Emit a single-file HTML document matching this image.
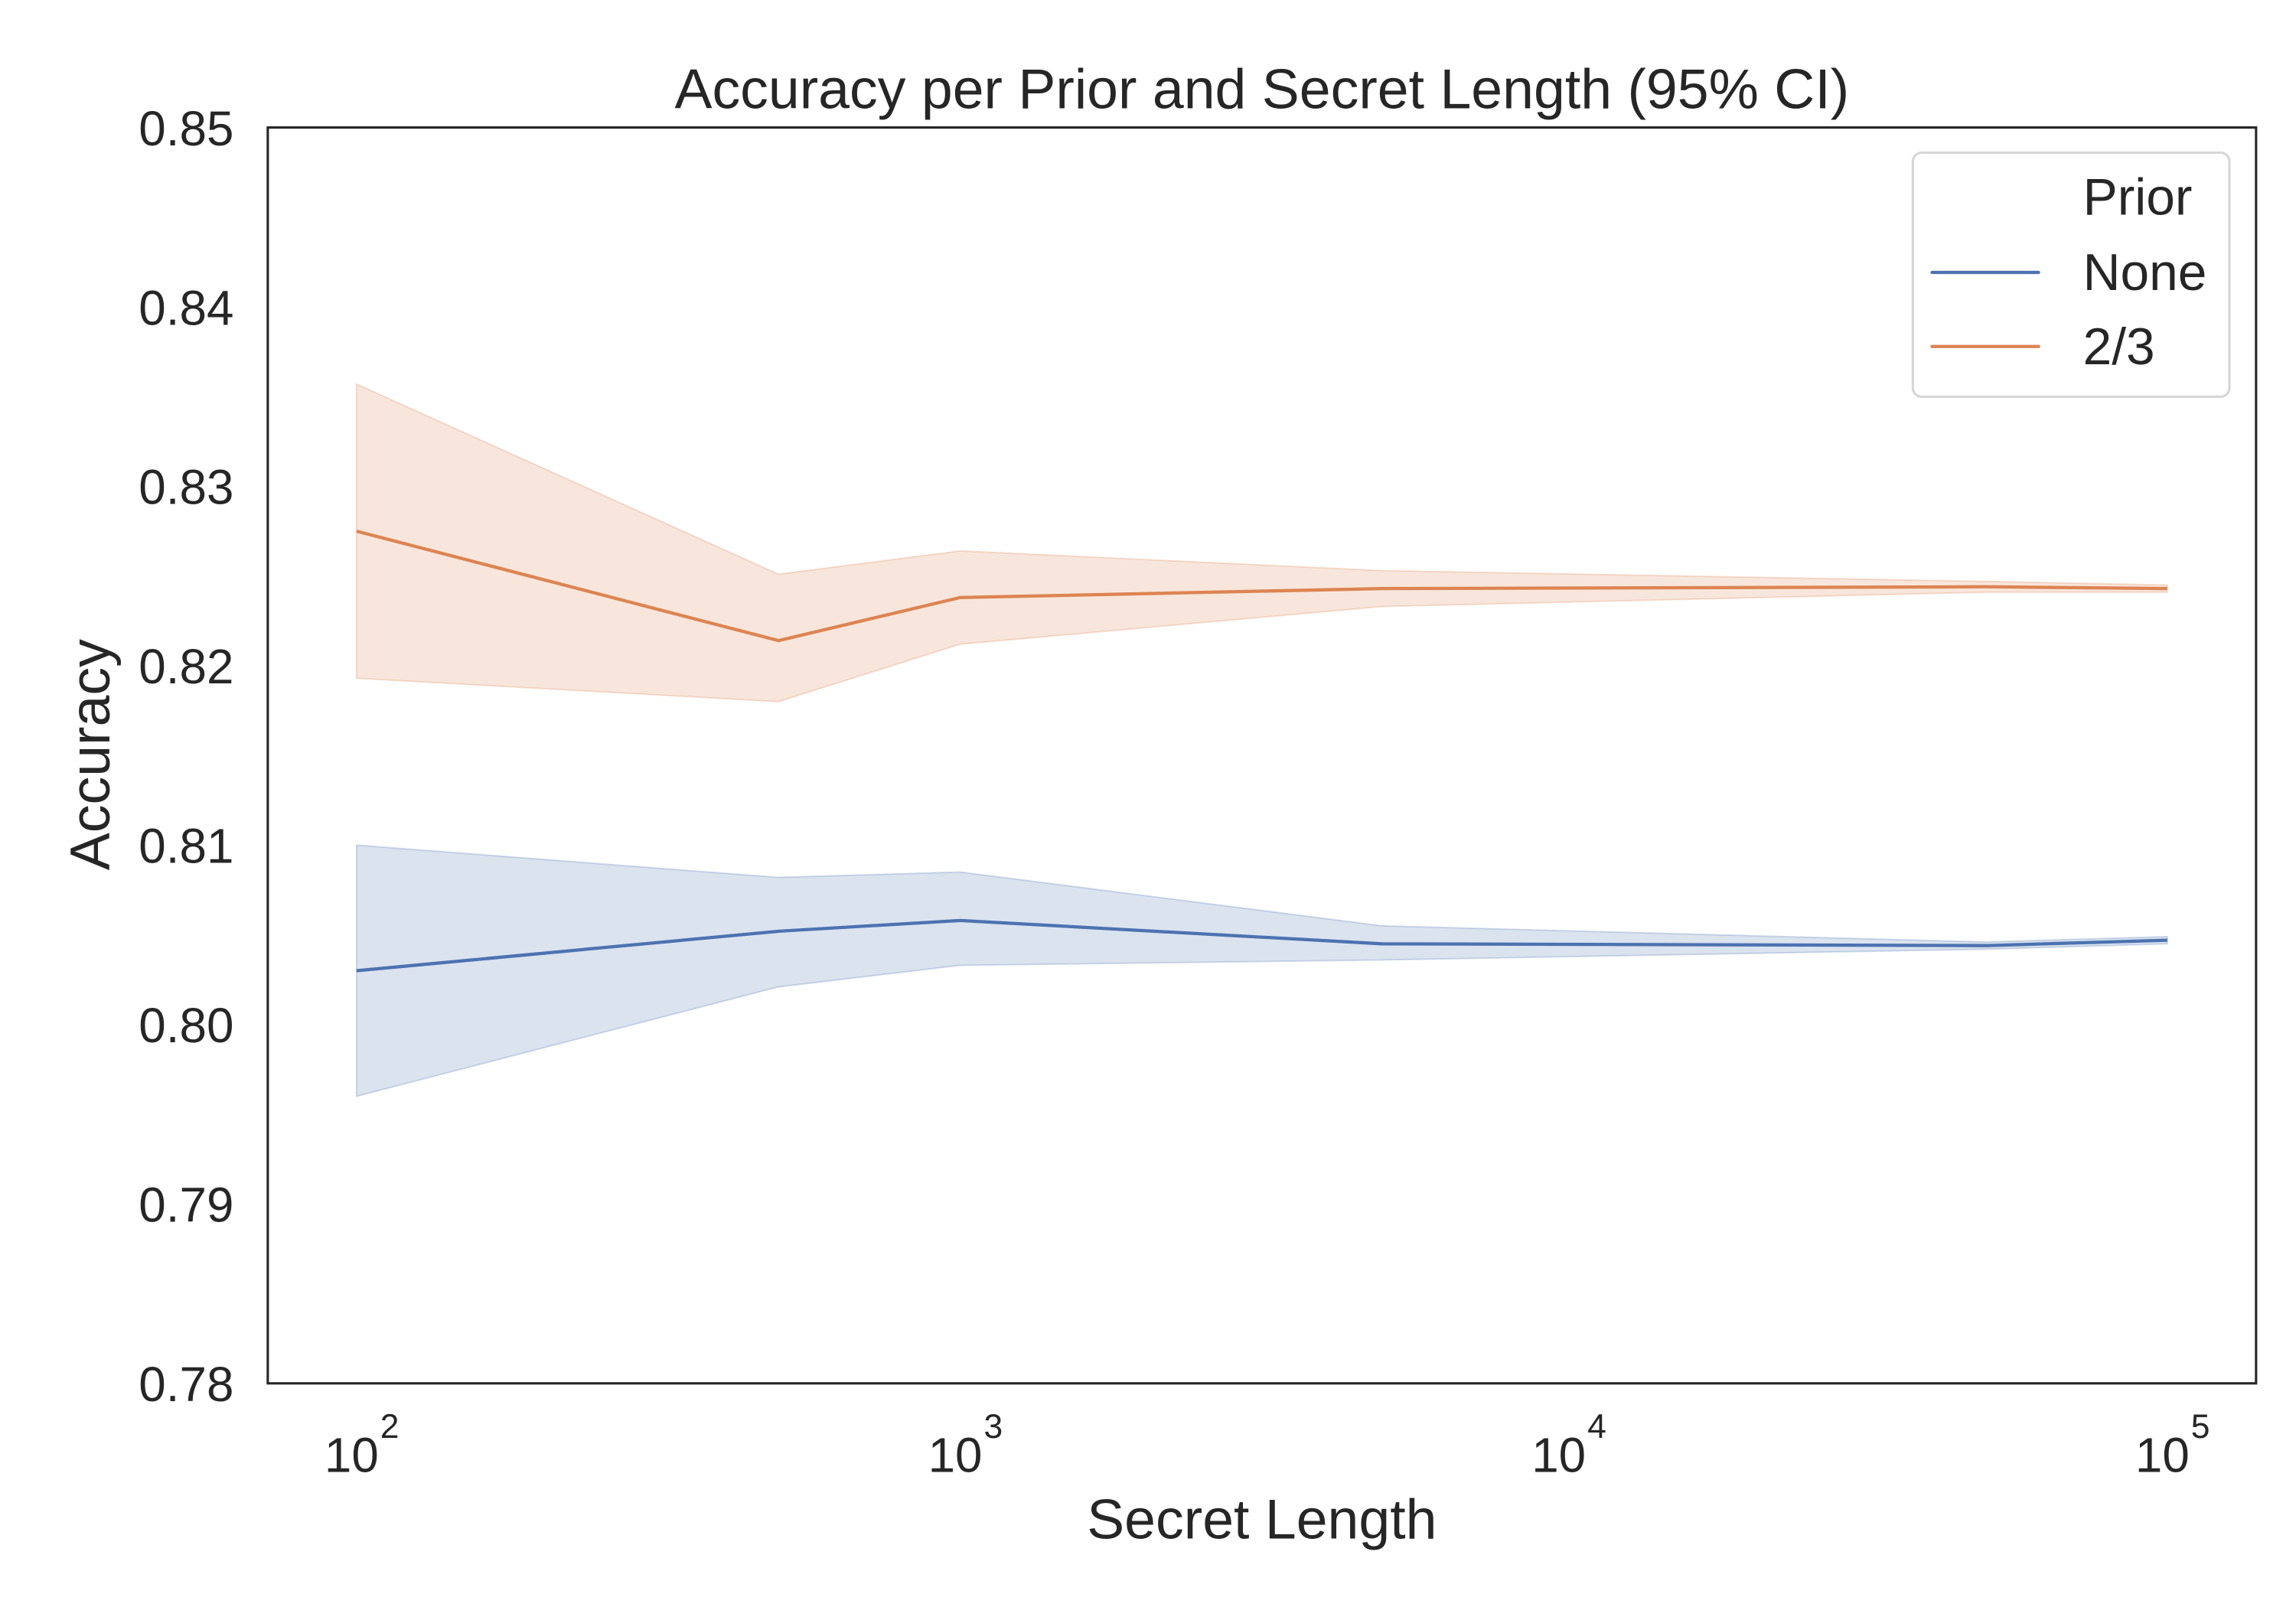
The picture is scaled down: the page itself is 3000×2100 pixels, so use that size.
<!DOCTYPE html>
<html><head><meta charset="utf-8"><style>html,body{margin:0;padding:0;background:#fff}svg{display:block}text{font-family:"Liberation Sans",Arial,sans-serif;fill:#262626}</style></head>
<body>
<svg id="chart" width="3000" height="2100" viewBox="0 0 1552 1086" xmlns="http://www.w3.org/2000/svg">
<rect width="1552" height="1086" fill="#fff"/>
<text x="853" y="73" font-size="38" text-anchor="middle">Accuracy per Prior and Secret Length (95% CI)</text>
<g id="bands"></g><g id="lines"></g>
<rect x="181" y="86" width="1344" height="849" fill="none" stroke="#262626" stroke-width="1.6"/>
<g id="yticks"></g><g id="xticks"></g>
<text transform="translate(74,510) rotate(-90)" font-size="38" text-anchor="middle">Accuracy</text>
<text x="853" y="1040" font-size="38" text-anchor="middle">Secret Length</text>
<g>
<rect x="1293" y="103" width="214" height="165" rx="6" fill="#fff" stroke="#d6d6d6" stroke-width="1.6"/>
<text x="1408" y="145" font-size="35">Prior</text>
<line x1="1306" y1="184" x2="1378" y2="184" stroke="#4c72b0" stroke-width="2.2" stroke-linecap="round"/>
<text x="1408" y="196" font-size="35">None</text>
<line x1="1306" y1="234" x2="1378" y2="234" stroke="#dd8452" stroke-width="2.2" stroke-linecap="round"/>
<text x="1408" y="246" font-size="35">2/3</text>
</g>
</svg>
<script>
const lengths=[100,500,1000,5000,50000,100000];
const orangeMean=[0.8275,0.8214,0.8238,0.8243,0.8244,0.8243];
const orangeUpper=[0.8357,0.8251,0.8264,0.8253,0.8247,0.8245];
const orangeLower=[0.8193,0.8180,0.8212,0.8233,0.8241,0.8241];
const blueMean=[0.8030,0.8052,0.8058,0.8045,0.8044,0.8047];
const blueUpper=[0.8100,0.8082,0.8085,0.8055,0.8046,0.8049];
const blueLower=[0.7960,0.8021,0.8033,0.8036,0.8042,0.8045];
const yTicks=["0.78","0.79","0.80","0.81","0.82","0.83","0.84","0.85"];
const xTickExp=[2,3,4,5];
const NS="http://www.w3.org/2000/svg";
function xs(v){return 241+(Math.log10(v)-2)*408;}
function ys(v){return 935-(v-0.78)/0.07*849;}
function mk(t,a,p){const e=document.createElementNS(NS,t);for(const k in a)e.setAttribute(k,a[k]);p.appendChild(e);return e;}
const bands=document.getElementById('bands'),lines=document.getElementById('lines');
function series(mean,up,lo,col,name){
  let d=lengths.map((x,i)=>(i?'L':'M')+xs(x)+','+ys(up[i])).join('');
  d+=lengths.slice().reverse().map((x,j)=>{const i=lengths.length-1-j;return 'L'+xs(x)+','+ys(lo[i]);}).join('')+'Z';
  const b=mk('path',{d:d,fill:col,'fill-opacity':0.2,stroke:col,'stroke-opacity':0.25,'stroke-width':1},bands);
  
  
  const l=mk('polyline',{points:lengths.map((x,i)=>xs(x)+','+ys(mean[i])).join(' '),fill:'none',stroke:col,'stroke-width':2.2},lines);
  
  
}
series(blueMean,blueUpper,blueLower,'#4c72b0','none-prior');
series(orangeMean,orangeUpper,orangeLower,'#dd8452','two-thirds-prior');
const yt=document.getElementById('yticks');
yTicks.forEach(s=>{const t=mk('text',{x:158,y:ys(parseFloat(s))+12,'font-size':33,'text-anchor':'end'},yt);t.textContent=s;

});
const xt=document.getElementById('xticks');
xTickExp.forEach(e=>{const x=xs(Math.pow(10,e));const t=mk('text',{x:x+15,y:995,'font-size':33,'text-anchor':'end'},xt);t.textContent='10';


const s=mk('text',{x:x+16,y:972,'font-size':23,'text-anchor':'start'},xt);s.textContent=String(e);});
</script>
</body></html>
